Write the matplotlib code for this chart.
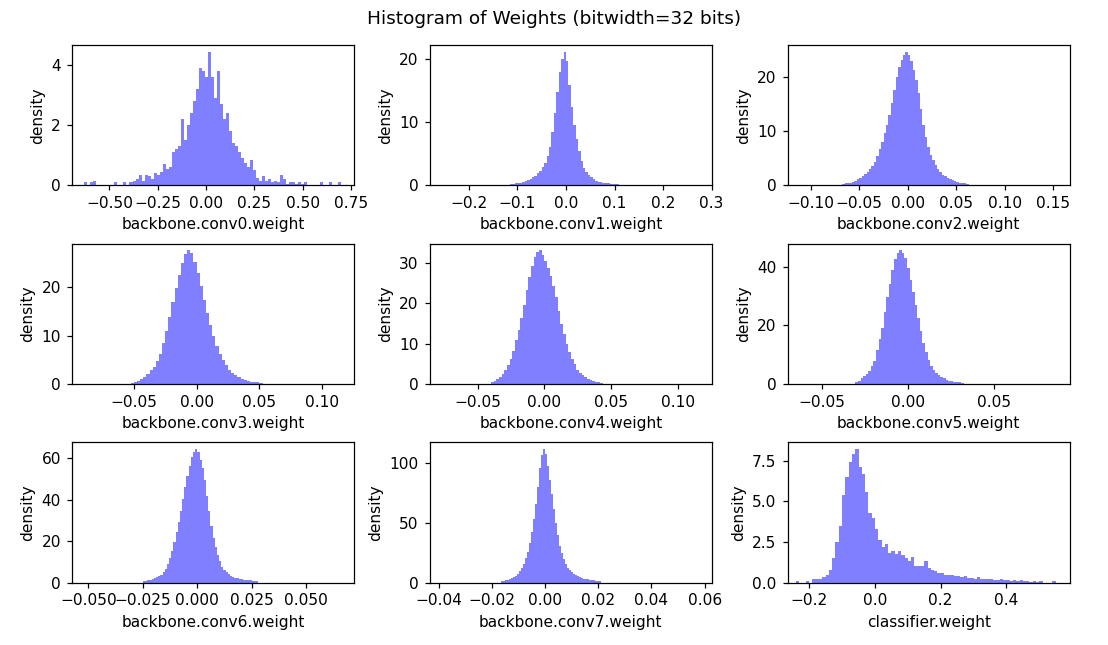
import numpy as np
import matplotlib
matplotlib.use('Agg')
import matplotlib.pyplot as plt

names = ['backbone.conv0.weight', 'backbone.conv1.weight', 'backbone.conv2.weight',
         'backbone.conv3.weight', 'backbone.conv4.weight', 'backbone.conv5.weight',
         'backbone.conv6.weight', 'backbone.conv7.weight', 'classifier.weight']

# first bin edge and bin width of each histogram
bin_start = [-0.630, -0.115, -0.0675, -0.0525, -0.040, -0.0305, -0.025, -0.0165, -0.240]
bin_width = [0.0156, 0.005, 0.0025, 0.0025, 0.002, 0.0015, 0.001, 0.00075, 0.01]

# x range shown by each panel
x_lo = [-0.695, -0.281, -0.124, -0.0995, -0.086, -0.070, -0.0577, -0.0434, -0.266]
x_hi = [0.766, 0.301, 0.167, 0.1255, 0.1258, 0.0944, 0.072, 0.0628, 0.5935]

conv0 = [0.1, 0, 0.1, 0.15, 0, 0, 0, 0, 0, 0, 0.1, 0, 0, 0.1, 0, 0.1, 0.15, 0.2, 0.35, 0.15,
         0.35, 0.3, 0.2, 0.4, 0.35, 0.45, 0.7, 0.55, 0.6, 1.1, 1.2, 1.3, 2.2, 1.5, 2.0, 2.4,
         2.8, 3.2, 3.9, 3.8, 3.6, 4.45, 3.6, 2.9, 3.8, 2.7, 2.2, 2.4, 1.8, 1.4, 1.3, 1.1,
         0.9, 0.75, 0.6, 0.85, 0.5, 0.25, 0.15, 0.3, 0.15, 0.2, 0.1, 0.15, 0.1, 0.35, 0.2,
         0.05, 0.1, 0.1, 0.05, 0.1, 0.05, 0.1, 0, 0, 0, 0, 0.1, 0, 0, 0.1, 0, 0, 0.1]
conv1 = [0.2, 0.25, 0.3, 0.35, 0.45, 0.55, 0.7, 0.85, 1.0, 1.25, 1.55, 1.9, 2.35, 2.9, 3.6,
         4.6, 6.1, 8.5, 11.5, 14.8, 18.0, 20.0, 21.2, 19.8, 16.0, 12.4, 9.6, 7.3, 5.4, 3.9,
         2.8, 2.1, 1.6, 1.25, 0.95, 0.75, 0.6, 0.5, 0.4, 0.35, 0.3, 0.25, 0.2, 0.2, 0.15, 0.1]
conv2 = [0.3, 0.35, 0.4, 0.5, 0.6, 0.8, 1.1, 1.4, 1.7, 2.1, 2.5, 3.0, 3.6, 4.4, 5.4, 6.7,
         8.1, 9.6, 11.2, 13.0, 15.2, 17.6, 20.0, 21.9, 23.2, 24.2, 24.7, 24.1, 23.0, 21.4,
         19.4, 17.0, 14.2, 11.2, 9.0, 7.1, 5.6, 4.6, 3.7, 3.0, 2.4, 2.0, 1.7, 1.4, 1.15,
         0.95, 0.75, 0.6, 0.5, 0.4, 0.35, 0.3]
conv3 = [0.3, 0.45, 0.65, 1.0, 1.45, 2.1, 2.8, 3.6, 4.8, 6.2, 8.4, 11.0, 13.8, 16.9, 19.9,
         22.6, 25.0, 26.8, 27.6, 27.0, 25.2, 23.0, 20.3, 17.4, 14.7, 12.3, 10.0, 7.8, 6.2,
         4.9, 3.9, 3.0, 2.3, 1.8, 1.4, 1.05, 0.8, 0.65, 0.5, 0.4, 0.35, 0.3]
conv4 = [0.4, 0.8, 1.3, 1.8, 2.4, 3.4, 4.6, 6.3, 8.3, 10.8, 13.3, 16.3, 19.6, 23.4, 26.5,
         29.3, 31.4, 32.8, 33.1, 32.0, 30.6, 28.8, 26.8, 24.4, 21.5, 18.2, 15.0, 12.4, 10.0,
         8.0, 6.3, 4.9, 3.6, 2.8, 2.2, 1.7, 1.3, 1.0, 0.75, 0.55, 0.45, 0.35]
conv5 = [0.6, 1.2, 1.9, 2.6, 3.5, 4.5, 6.0, 8.0, 11.5, 15.5, 19.2, 24.5, 29.6, 34.2, 38.9,
         42.5, 44.6, 45.5, 44.6, 42.8, 39.5, 35.6, 31.5, 27.0, 22.4, 18.0, 14.0, 10.8, 8.2,
         6.2, 4.8, 3.8, 3.0, 2.4, 1.9, 1.5, 1.2, 1.0, 0.8, 0.65, 0.55, 0.45]
conv6 = [0.9, 1.0, 1.2, 1.4, 1.8, 2.2, 2.6, 3.1, 3.8, 5.0, 6.8, 9.0, 12.0, 15.5, 19.8, 24.5,
         29.5, 34.5, 40.2, 46.0, 51.5, 56.3, 60.5, 63.2, 64.5, 63.0, 59.5, 55.5, 49.5, 42.0,
         34.8, 27.5, 21.5, 17.0, 13.2, 10.3, 7.8, 6.2, 5.0, 4.1, 3.4, 2.9, 2.4, 2.1, 1.8,
         1.6, 1.4, 1.3, 1.2, 1.1, 1.0, 1.0, 0.9]
conv7 = [1.5, 1.8, 2.1, 2.5, 3.1, 3.8, 4.6, 5.8, 7.6, 9.8, 12.6, 16.0, 20.5, 26.0, 33.5,
         42.5, 53.5, 66.0, 80.0, 96.0, 107.0, 112.0, 108.0, 98.0, 86.0, 74.0, 62.0, 50.0,
         40.0, 31.0, 25.0, 19.5, 15.5, 12.5, 10.5, 8.6, 7.2, 6.2, 5.2, 4.5, 3.9, 3.4, 3.0,
         2.7, 2.4, 2.2, 2.0, 1.8, 1.7, 1.5]
classifier = [0.1, 0, 0, 0.1, 0, 0.2, 0.2, 0.25, 0.35, 0.45, 0.75, 1.5, 2.5, 3.5, 5.4, 6.5,
              7.4, 7.9, 8.2, 7.1, 6.7, 5.6, 4.3, 4.0, 3.3, 2.6, 2.2, 2.4, 1.85, 1.95, 1.75,
              1.95, 1.7, 1.5, 1.35, 1.55, 1.05, 1.0, 1.05, 1.35, 0.9, 0.8, 0.7, 0.6, 0.6,
              0.5, 0.45, 0.5, 0.4, 0.4, 0.35, 0.4, 0.3, 0.3, 0.25, 0.35, 0.2, 0.2, 0.2, 0.2,
              0.15, 0.15, 0.2, 0.15, 0.15, 0.1, 0.15, 0.1, 0.15, 0.1, 0.1, 0.05, 0.1, 0.05,
              0.1, 0, 0, 0, 0.1]

densities = [conv0, conv1, conv2, conv3, conv4, conv5, conv6, conv7, classifier]

dpi = 110.8
fig, axes = plt.subplots(3, 3, figsize=(1108 / dpi, 645 / dpi), dpi=dpi)
axes = axes.ravel()
for i, ax in enumerate(axes):
    h = np.array(densities[i])
    edges = bin_start[i] + bin_width[i] * np.arange(len(h) + 1)
    ax.stairs(h, edges, fill=True, color='blue', alpha=0.5, linewidth=0)
    ax.set_xlim(x_lo[i], x_hi[i])
    ax.set_xlabel(names[i])
    ax.set_ylabel('density')

fig.suptitle('Histogram of Weights (bitwidth=32 bits)', y=0.985)
plt.subplots_adjust(left=0.0647, right=0.9657, top=0.930, bottom=0.0966,
                    wspace=0.267, hspace=0.417)
plt.savefig('out.png', dpi=dpi)
